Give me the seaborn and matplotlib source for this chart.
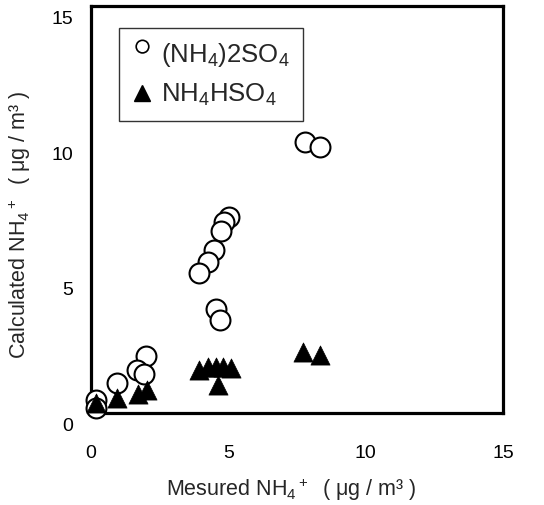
import matplotlib
matplotlib.use("Agg")
import matplotlib.pyplot as plt
import matplotlib.transforms as mtransforms
from matplotlib.lines import Line2D
from matplotlib.path import Path
import pandas as pd
import seaborn as sns

# Measured vs calculated ammonium (µg/m³)
sulfate_measured = [7.78, 8.33, 5.02, 4.84, 4.75, 4.47, 4.27, 3.93, 4.55, 4.68,
                    2.02, 1.66, 1.93, 0.93, 0.17, 0.20]
sulfate_calc = [9.99, 9.80, 7.24, 7.03, 6.69, 5.99, 5.55, 5.17, 3.82, 3.43,
                2.10, 1.58, 1.45, 1.09, 0.48, 0.20]
bisulfate_measured = [7.72, 8.33, 3.93, 4.25, 4.56, 4.81, 5.11, 4.63,
                      1.72, 2.05, 0.93, 0.20]
bisulfate_calc = [2.25, 2.13, 1.60, 1.70, 1.70, 1.70, 1.65, 1.03,
                  0.70, 0.85, 0.54, 0.36]
x_ticks = [0, 5, 10, 15]
y_ticks = [0, 5, 10, 15]
series_labels = ["(NH$_4$)2SO$_4$", "NH$_4$HSO$_4$"]

sulfate = pd.DataFrame({"measured": sulfate_measured, "calc": sulfate_calc})
bisulfate = pd.DataFrame({"measured": bisulfate_measured, "calc": bisulfate_calc})

sns.set_theme(style="white")
plt.rcParams["font.family"] = ["Liberation Sans", "DejaVu Sans"]
plt.rcParams["mathtext.fontset"] = "custom"
plt.rcParams["mathtext.rm"] = "Liberation Sans"
plt.rcParams["mathtext.it"] = "Liberation Sans:italic"

fig = plt.figure(figsize=(5.44, 5.05), dpi=100)
ax = fig.add_axes([91 / 544, (505 - 413) / 505, 412 / 544, 407 / 505])

sns.scatterplot(data=sulfate, x="measured", y="calc", ax=ax, marker="o",
                s=205, facecolor="white", edgecolor="black", linewidth=1.5,
                clip_on=False, zorder=3)
sns.scatterplot(data=bisulfate, x="measured", y="calc", ax=ax, marker="^",
                s=190, color="black", edgecolor="black", linewidth=0.5,
                clip_on=False, zorder=4)

ax.set_xlim(0, 15)
ax.set_ylim(0, 15)
ax.set_xticks(x_ticks)
ax.set_yticks(y_ticks)
ax.set_xticklabels([str(t) for t in x_ticks])
ax.set_yticklabels([str(t) for t in y_ticks])
ax.tick_params(axis="both", length=0, labelsize=14, colors="black")
ax.tick_params(axis="x", pad=23)
ax.tick_params(axis="y", pad=13)

# y tick labels sit slightly below their gridline positions
shift = mtransforms.ScaledTranslation(0, -11.5 / 100, fig.dpi_scale_trans)
for lbl in ax.get_yticklabels():
    lbl.set_transform(lbl.get_transform() + shift)

for sp in ax.spines.values():
    sp.set_visible(True)
    sp.set_color("black")
    sp.set_linewidth(2.3)

ax.set_xlabel("Mesured NH$_4$$^+$  ( μg / m³ )", fontsize=15.5)
ax.set_ylabel("Calculated NH$_4$$^+$  ( μg / m³ )", fontsize=15.5)
ax.xaxis.set_label_coords(0.485, -0.155)
ax.yaxis.set_label_coords(-0.14, 0.462)

# raised open-circle glyph for the legend
circ = Path.unit_circle()
raised = Path(circ.vertices * 0.55 + [0, 0.6], circ.codes)
handles = [
    Line2D([], [], linestyle="none", marker=raised, markersize=19,
           markerfacecolor="white", markeredgecolor="black", markeredgewidth=1.2),
    Line2D([], [], linestyle="none", marker="^", markersize=12,
           markerfacecolor="black", markeredgecolor="black"),
]
leg = ax.legend(handles, series_labels, loc="upper left",
                bbox_to_anchor=(0.068, 0.946), fontsize=18.5, frameon=True,
                fancybox=False, edgecolor="black", handlelength=0.8,
                handletextpad=0.35, borderpad=0.5, labelspacing=0.5,
                borderaxespad=0)
leg.get_frame().set_linewidth(1.0)

fig.savefig("out.png", dpi=100)
